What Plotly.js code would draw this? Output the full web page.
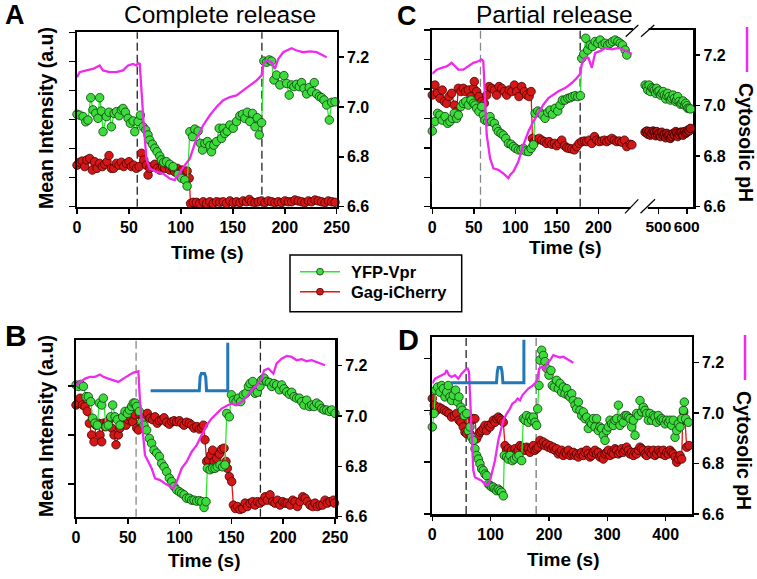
<!DOCTYPE html>
<html><head><meta charset="utf-8">
<script src="https://cdn.plot.ly/plotly-3.0.1.min.js"></script>
<style>html,body{margin:0;padding:0;background:#fff}#chart{width:757px;height:579px}</style>
</head><body><div id="chart"></div>
<script>
// ---------- Panel A (complete release) ----------
const A_YFP_T = [0,2.6,5.8,8.4,10.6,13.2,15.4,18.0,20.2,21.8,23.5,25.1,28.3,30.8,33.1,35.7,37.9,40.5,42.7,44.3,46.6,49.2,51.4,54.0,55.6,58.8,61.0,63.6,66.2,68.4,70.0,72.6,74.9,77.1,79.7,81.3,83.5,86.1,89.3,92.5,97.4,100.6,103.8,106.0,108.6,111.2,113.4,116.6,118.9,120.8,123.1,125.6,127.9,129.5,131.7,134.3,136.9,139.1,140.7,142.3,144.6,147.2,150.4,153.6,156.8,159.4,161.6,163.9,166.4,169.0,171.3,173.5,175.4,177.7,179.9,182.5,185.1,187.3,189.6,192.1,195.3,199.2,201.8,204.3,206.6,208.8,211.4,214.0,216.2,218.5,221.1,223.6,225.9,228.4,230.7,233.3,235.5,237.8,240.3,242.9,245.2,248.4];
const A_YFP = [3.18,3.15,3.10,2.92,2.98,3.75,3.33,3.21,3.04,3.75,3.29,2.58,3.10,3.25,2.75,3.21,3.27,3.13,3.33,3.38,3.25,3.04,2.87,2.95,2.58,2.93,3.15,2.75,2.64,2.47,2.29,2.15,2.01,1.89,1.74,1.61,1.53,1.55,1.46,1.38,1.11,0.98,0.92,0.71,2.58,2.41,2.67,2.60,2.18,1.95,2.18,2.24,2.10,1.89,2.12,2.24,2.70,2.35,2.70,2.52,2.60,2.81,2.70,2.93,3.13,3.18,3.04,3.25,2.93,3.21,2.75,3.06,2.47,2.89,5.01,4.97,5.05,5.01,4.36,4.53,4.19,4.51,4.24,3.84,4.19,4.13,4.21,4.13,4.27,4.07,3.88,4.10,3.96,4.27,3.88,3.79,3.75,3.67,3.50,2.98,3.59,3.61];
const A_GAG_T = [0,2.6,5.1,7.4,9.6,12.2,14.8,17.0,19.3,21.8,24.4,26.7,28.9,30.8,33.1,35.3,37.9,40.5,42.7,45.0,47.6,50.1,52.4,54.6,57.2,59.8,62.0,64.3,66.8,68.4,70.0,72.6,74.9,77.1,79.7,82.3,84.5,86.8,89.3,91.9,94.1,96.4,99.0,101.5,103.8,106.0,108.0,109.3,111.8,115.0,118.2,121.5,124.7,127.9,131.1,134.3,137.5,140.7,143.9,147.2,150.4,153.6,156.8,160.0,163.2,165.8,168.0,171.3,174.5,177.7,180.9,184.1,187.3,190.5,193.7,197.0,200.2,203.4,206.6,209.8,213.0,216.2,219.4,222.7,225.9,229.1,232.3,235.5,238.7,241.9,245.2,248.4];
const A_GAG = [1.43,1.53,1.57,1.38,1.61,1.66,1.26,1.55,1.32,1.49,1.38,1.46,1.55,1.76,1.32,1.32,1.49,1.43,1.53,1.38,1.49,1.55,1.38,1.43,1.32,1.38,1.84,1.61,1.43,1.09,1.32,1.38,1.46,1.32,1.26,1.38,1.32,1.46,1.26,1.34,1.20,1.32,1.15,1.26,1.20,1.23,0.98,0.11,0.15,0.15,0.11,0.17,0.11,0.17,0.11,0.17,0.15,0.17,0.11,0.20,0.14,0.17,0.14,0.20,0.17,0.25,0.17,0.14,0.17,0.20,0.14,0.20,0.17,0.14,0.17,0.14,0.20,0.17,0.17,0.23,0.20,0.17,0.14,0.20,0.17,0.23,0.20,0.17,0.14,0.20,0.17,0.15];
const A_PH_T = [0,2.6,9,15.4,21.8,25,31.5,37.9,44.3,49.2,54,57.2,58.8,60.4,64.3,66.8,70,76.5,82.9,89.3,94.1,99,103.8,108.6,115,121.5,127.9,134.3,140.7,147.2,153.6,160,166.4,172.9,177.7,179.3,182.5,187.3,190.5,193.7,198.5,206.6,211.4,217.8,224.3,230.7,237.1,240.3];
const A_PH = [7.12,7.14,7.147,7.153,7.167,7.147,7.14,7.14,7.147,7.167,7.173,7.167,7.177,7.173,6.927,6.793,6.753,6.74,6.733,6.713,6.707,6.74,6.767,6.793,6.873,6.927,6.967,7.0,7.027,7.04,7.047,7.067,7.087,7.107,7.127,7.173,7.187,7.18,7.153,7.193,7.22,7.236,7.227,7.22,7.223,7.22,7.207,7.2];

// ---------- Panel C (partial release) ----------
const C_YFP_T = [0,3.2,6.4,9.2,12.0,15.3,18.5,21.3,24.1,26.5,29.3,31.3,34.5,37.3,40.2,43.4,46.6,49.4,51.4,53.4,56.2,59.4,61.4,63.5,66.7,69.5,71.5,74.7,77.5,79.5,82.7,85.5,88.4,91.6,94.8,97.6,100.4,103.6,106.8,109.6,112.4,115.7,118.9,121.7,123.7,126.9,129.7,132.5,135.7,139.0,141.8,144.6,147.8,151.0,153.8,156.6,159.8,163.1,165.9,168.7,171.9,175.1,178.3,179.9,182.3,184.7,187.1,190.0,192.8,196.0,199.2,202.0,204.8,208.0,211.2,214.1,216.9,220.1,223.3,226.1,228.9,232.1,234.1];
const C_YFP = [2.57,2.89,3.17,3.11,2.94,3.06,2.83,2.89,3.00,3.17,3.00,3.11,3.40,3.51,3.57,3.45,3.62,3.51,3.45,3.34,3.23,3.40,3.11,2.94,2.89,3.06,2.89,2.83,2.66,2.55,2.49,2.43,2.32,2.15,2.12,2.04,1.98,1.93,1.93,1.98,1.89,1.87,1.98,2.10,3.17,3.25,3.20,3.11,3.00,3.20,3.28,3.14,3.34,3.25,3.45,3.62,3.62,3.68,3.70,3.74,3.77,3.74,3.77,5.04,5.18,5.72,5.32,5.49,5.44,5.61,5.55,5.66,5.49,5.55,5.49,5.55,5.61,5.66,5.61,5.55,5.49,5.32,5.15];
const C_GAG_T = [0,3.2,6.4,9.2,12.0,14.5,17.3,20.1,23.3,26.5,29.3,31.3,34.5,37.3,40.2,43.4,46.6,49.4,50.6,53.4,56.2,59.4,62.6,65.5,68.3,71.5,74.7,77.5,80.3,83.5,86.7,89.6,92.4,95.6,98.8,101.6,104.4,107.6,110.8,113.7,116.5,118.9,120.5,122.9,125.7,128.5,131.7,134.9,137.7,140.6,143.8,147.0,149.8,152.6,155.8,159.0,161.8,164.7,167.9,171.1,173.9,176.7,179.9,183.1,185.9,188.8,192.0,195.2,198.0,200.8,204.0,207.2,210.0,212.8,216.1,219.3,222.1,224.9,228.1,231.3,234.1,238.2,240.2];
const C_GAG = [3.79,4.13,3.85,3.68,3.96,3.57,3.51,3.74,3.85,3.45,3.23,4.02,3.91,4.02,3.91,3.96,3.74,4.02,4.25,3.91,3.74,3.57,3.51,3.79,4.08,4.02,3.96,3.79,4.08,4.02,3.91,3.79,3.96,3.91,4.13,3.91,3.74,4.08,3.91,3.79,3.74,3.91,2.32,2.21,2.26,2.32,2.26,2.21,2.15,2.21,2.12,2.15,2.07,2.15,2.26,2.07,2.00,1.98,1.96,1.93,2.04,2.15,2.21,2.23,2.21,2.26,2.15,2.38,2.26,2.21,2.23,2.26,2.21,2.26,2.32,2.26,2.21,2.23,2.19,2.26,2.04,2.12,2.10];
const C_LATE_T = [453.0,458.8,462.4,467.1,471.8,476.5,481.2,485.9,490.6,494.1,497.6,502.4,507.1,511.8,516.5,521.2,525.9,529.4,532.9,537.6,542.3,547.0,551.7,556.4,561.2,564.7,568.2,572.9,577.6,582.3,587.0,591.7,596.4,600.0,603.5,608.2,612.9];
const C_YFP_LATE = [4.13,4.08,3.96,4.13,3.91,4.04,4.00,3.96,3.85,4.02,3.91,3.93,3.79,3.85,3.91,3.79,3.66,3.77,3.85,3.74,3.62,3.68,3.79,3.68,3.57,3.62,3.74,3.57,3.48,3.51,3.59,3.45,3.51,3.43,3.34,3.34,3.32];
const C_GAG_LATE = [2.53,2.57,2.46,2.55,2.43,2.49,2.57,2.53,2.41,2.55,2.46,2.49,2.38,2.53,2.43,2.46,2.34,2.49,2.41,2.43,2.32,2.38,2.49,2.43,2.55,2.49,2.38,2.46,2.53,2.53,2.43,2.55,2.49,2.53,2.60,2.57,2.66];
const C_PH_T = [0,5.2,11.2,17.3,23.3,27.3,31.3,37.3,43.4,49.4,55.4,59.4,61.4,63.5,65.5,69.5,73.5,79.5,85.5,91.6,93.6,97.6,103.6,109.6,115.7,121.7,127.7,133.7,139.8,145.8,151.8,159.8,167.9,173.9,177.9,179.9,183.1,188.0,192.0,196.0,202.0,208.0,216.1,224.1,232.1,240.2];
const C_PH = [7.126,7.143,7.150,7.156,7.170,7.156,7.143,7.143,7.156,7.170,7.176,7.183,7.176,6.991,6.885,6.792,6.752,6.746,6.732,6.713,6.726,6.739,6.779,6.845,6.898,6.938,6.971,7.004,7.030,7.044,7.057,7.070,7.090,7.110,7.126,7.163,7.189,7.189,7.150,7.209,7.216,7.229,7.223,7.229,7.219,7.205];

// ---------- Panel B ----------
const B_YFP_T = [0,2.3,4.5,7.1,9.7,11.9,14.2,16.1,18.3,20.6,22.5,24.8,26.4,29.0,31.2,33.5,35.4,37.7,39.9,42.5,45.1,47.3,49.6,51.5,53.7,55.3,57.0,58.6,61.1,63.4,65.6,68.2,70.8,73.0,75.3,77.9,80.5,82.7,85.0,87.5,90.1,92.4,94.6,97.2,99.8,102.0,104.3,106.8,109.4,111.7,113.9,116.5,119.1,121.3,123.6,125.5,126.8,129.4,131.9,134.2,136.4,139.0,141.6,143.8,145.5,148.0,150.0,151.9,154.5,156.7,159.0,161.5,164.1,166.4,168.0,170.6,172.8,175.1,177.6,179.2,181.5,184.1,186.6,188.9,191.1,193.7,196.3,198.5,200.8,203.4,206.0,208.2,210.5,213.0,215.6,217.9,220.1,222.7,225.3,227.5,229.8,232.3,234.9,237.2,239.4,242.0,244.6,246.8,250.0];
const B_YFP = [3.02,2.99,3.03,2.99,2.78,2.78,2.68,2.34,2.24,2.20,2.65,2.61,2.75,2.17,2.20,2.37,2.61,2.37,2.31,2.20,2.37,2.48,2.44,2.51,2.58,2.65,2.65,2.58,2.48,2.27,2.20,2.10,1.93,1.83,1.69,1.63,1.56,1.42,1.35,1.25,1.12,1.05,0.95,0.88,0.84,0.81,0.78,0.71,0.71,0.67,0.67,0.65,0.66,0.64,0.52,0.64,1.32,1.29,1.32,1.32,1.35,1.39,1.35,1.39,2.44,2.37,2.82,2.71,2.68,2.75,2.68,2.82,2.85,2.99,3.05,3.09,2.85,2.87,2.99,3.12,3.16,3.09,3.07,2.99,3.05,3.02,2.92,3.02,2.94,2.88,2.83,2.87,2.78,2.75,2.75,2.68,2.61,2.71,2.58,2.61,2.58,2.65,2.61,2.54,2.51,2.51,2.48,2.51,2.44];
const B_GAG_T = [0,2.3,3.9,6.4,8.7,10.9,12.9,15.1,17.4,19.3,21.6,23.2,24.8,26.4,28.0,30.2,32.2,34.4,36.7,38.6,40.9,42.5,44.1,45.7,48.3,50.5,52.1,54.7,57.0,58.6,60.2,61.8,64.4,66.6,68.9,71.4,74.0,76.3,78.5,80.5,82.7,85.0,87.5,90.1,92.4,94.6,97.2,99.8,102.0,104.3,106.8,109.4,111.7,113.9,116.5,119.1,121.3,122.9,124.5,126.1,127.8,130.0,131.9,133.2,135.8,138.4,140.6,142.9,144.8,146.1,148.0,150.3,151.9,153.8,155.8,158.3,160.9,163.2,165.4,168.0,170.6,172.8,175.1,177.6,180.2,182.5,184.7,187.3,189.9,192.1,194.4,196.9,199.5,201.8,204.0,206.6,209.2,211.4,213.7,216.2,218.8,221.1,223.3,225.9,228.5,230.7,233.0,235.6,238.1,240.4,242.6,245.2,248.4,249.5];
const B_GAG = [2.61,2.65,2.75,2.61,2.58,2.48,2.24,2.00,1.86,2.20,2.24,2.00,1.86,2.24,2.17,2.27,2.31,2.14,2.00,1.80,2.00,2.14,2.24,2.31,2.20,2.31,2.37,2.27,2.41,2.14,2.10,2.41,2.34,2.41,2.44,2.34,2.31,2.37,2.24,2.29,2.31,2.35,2.26,2.22,2.27,2.29,2.27,2.29,2.24,2.20,2.26,2.24,2.20,2.14,2.17,2.12,2.15,2.20,1.90,1.46,1.49,1.59,1.69,1.46,1.52,1.61,1.71,1.73,1.46,1.32,1.15,1.05,0.57,0.50,0.54,0.48,0.50,0.61,0.54,0.61,0.64,0.57,0.64,0.61,0.65,0.74,0.67,0.78,0.64,0.61,0.67,0.57,0.64,0.61,0.61,0.57,0.67,0.64,0.54,0.64,0.74,0.71,0.64,0.57,0.54,0.61,0.54,0.57,0.57,0.67,0.61,0.64,0.67,0.61];
const B_PH_T = [0,3.9,8.7,13.5,18.3,23.2,26.4,31.2,36.0,40.9,45.7,50.5,55.3,58.6,60.2,61.8,64.4,66.6,69.8,73.0,76.3,81.1,85.9,90.7,94.0,97.2,102.0,106.8,111.7,116.5,121.3,126.1,131.0,135.8,140.6,145.5,150.3,155.1,159.9,164.8,169.6,174.4,179.2,181.5,185.7,190.5,193.7,198.5,203.4,208.2,213.0,217.9,222.7,227.5,232.3,237.2,240.4];
const B_PH = [7.122,7.135,7.148,7.155,7.155,7.164,7.155,7.148,7.142,7.135,7.148,7.161,7.172,7.175,7.177,7.056,6.924,6.844,6.818,6.792,6.752,6.745,6.732,6.719,6.712,6.739,6.792,6.818,6.858,6.884,6.924,6.963,6.990,7.010,7.029,7.040,7.049,7.043,7.056,7.076,7.102,7.122,7.148,7.181,7.188,7.168,7.208,7.227,7.238,7.234,7.221,7.225,7.217,7.221,7.214,7.208,7.201];
const B_STIM_T = [72,119,119.8,121,124,125.2,126,146.5,146.5];
const B_STIM = [7.10,7.10,7.155,7.168,7.168,7.155,7.10,7.10,7.29];

// ---------- Panel D ----------
const D_YFP_T = [0,2.9,5.7,9.1,13.1,16.0,18.9,21.7,24.6,27.4,30.3,33.1,36.0,40.0,43.4,45.7,49.1,51.4,54.9,58.9,61.7,64.6,67.4,70.3,73.1,76.0,78.9,81.7,84.6,87.4,90.3,93.1,96.0,98.9,101.7,104.6,107.4,110.3,113.1,116.0,118.9,121.7,123.4,127.4,130.3,133.1,137.1,140.6,144.6,148.6,153.1,156.0,158.9,161.7,164.6,167.4,170.3,173.1,176.0,178.9,180.6,182.9,184.6,187.4,190.3,193.1,196.0,200.0,203.4,205.7,209.1,213.1,216.0,218.9,221.7,224.6,227.4,230.3,233.1,236.0,238.9,241.7,244.6,247.4,250.3,253.1,256.0,258.9,261.7,264.6,267.4,270.3,273.1,276.0,278.9,281.7,284.6,287.4,290.3,293.1,296.0,298.9,301.7,304.6,307.4,310.3,313.1,316.0,318.9,321.7,324.6,327.4,330.3,333.1,336.0,338.9,341.7,344.6,347.4,350.3,353.1,356.0,358.9,361.7,364.6,367.4,370.3,373.1,376.0,378.9,381.7,384.6,387.4,390.3,393.1,396.0,398.9,401.7,404.6,407.4,410.3,413.1,416.0,418.9,421.7,424.6,427.4,430.3,432.0,434.3,438.9];
const D_YFP = [1.68,1.94,2.39,2.45,2.35,2.48,2.42,2.26,2.35,2.48,2.26,2.19,2.29,2.39,2.16,2.26,2.06,2.00,1.90,1.94,1.61,1.68,1.48,1.42,1.26,1.13,1.06,0.97,0.87,0.84,0.77,0.74,0.58,0.55,0.52,0.52,0.48,0.45,0.48,0.45,0.42,0.35,1.13,1.10,1.06,1.13,1.03,1.06,1.10,1.13,1.03,1.84,1.81,1.90,1.77,1.87,1.81,1.87,1.77,1.71,2.03,2.48,2.97,3.16,3.06,2.94,2.81,2.68,2.77,2.48,2.45,2.58,2.42,2.52,2.35,2.45,2.32,2.42,2.29,2.26,2.32,2.19,2.10,2.03,2.16,2.00,1.90,1.97,1.84,1.87,1.65,1.77,1.74,1.84,1.68,1.84,1.61,1.68,1.65,1.52,1.42,1.61,1.68,1.81,1.74,1.71,1.81,1.84,2.10,1.71,1.84,1.77,1.90,1.90,1.87,1.84,1.68,1.81,1.52,1.94,1.90,2.19,1.97,2.06,2.00,1.94,1.81,1.94,1.81,1.90,1.87,1.77,1.90,1.81,1.84,1.81,1.74,1.81,1.77,1.81,1.71,1.81,1.48,1.61,1.74,1.68,1.84,2.00,2.16,1.84,1.77];
const D_GAG_T = [0,3.4,7.4,11.4,16.0,20.6,24.6,28.6,33.1,37.7,41.7,45.7,49.1,53.1,56.0,58.9,61.7,64.6,67.4,70.3,73.1,76.0,78.9,81.7,84.6,87.4,90.3,93.1,96.0,98.9,101.7,104.6,107.4,110.3,113.1,116.0,118.9,121.7,124.6,127.4,130.3,133.1,136.0,138.9,141.7,144.6,147.4,150.3,153.1,156.0,158.9,161.7,164.6,167.4,170.3,173.1,176.0,178.9,181.7,184.6,187.4,190.3,193.1,196.0,198.9,201.7,204.6,207.4,210.3,213.1,216.0,218.9,221.7,224.6,227.4,230.3,233.1,236.0,238.9,241.7,244.6,247.4,250.3,253.1,256.0,258.9,261.7,264.6,267.4,270.3,273.1,276.0,278.9,281.7,284.6,287.4,290.3,293.1,296.0,298.9,301.7,304.6,307.4,310.3,313.1,316.0,318.9,321.7,324.6,327.4,330.3,333.1,336.0,338.9,341.7,344.6,347.4,350.3,353.1,356.0,358.9,361.7,364.6,367.4,370.3,373.1,376.0,378.9,381.7,384.6,387.4,390.3,393.1,396.0,398.9,401.7,404.6,407.4,410.3,413.1,416.0,418.9,421.7,424.6,427.4,429.1,430.9,433.1,436.0,440.0];
const D_GAG = [2.23,2.10,2.00,2.06,2.03,2.00,1.97,1.94,1.87,1.90,1.94,1.81,1.77,1.68,1.58,1.55,1.81,1.55,1.81,1.84,1.84,1.45,1.52,1.58,1.61,1.65,1.71,1.61,1.71,1.68,1.74,1.81,1.77,1.84,1.87,1.84,1.81,1.77,
1.32,1.23,1.26,1.19,1.23,1.16,1.26,1.19,1.23,1.32,
1.29,1.26,1.23,1.29,1.26,1.19,1.26,1.32,1.23,1.26,
1.29,1.42,1.35,1.39,1.32,1.35,1.29,1.32,1.26,1.29,
1.23,1.26,1.16,1.19,1.23,1.13,1.19,1.16,1.23,1.13,
1.16,1.19,1.13,1.16,1.10,1.16,1.19,1.13,1.19,1.23,
1.16,1.10,1.13,1.19,1.23,1.16,1.19,1.10,1.13,1.06,
1.16,1.19,1.23,1.13,1.19,1.16,1.26,1.23,1.16,1.19,
1.26,1.19,1.23,1.29,1.23,1.16,1.19,1.13,1.19,1.16,
1.23,1.29,1.26,1.23,1.16,1.13,1.23,1.19,1.16,1.23,
1.13,1.16,1.23,1.19,1.16,1.23,1.13,1.19,1.16,1.23,
1.19,1.16,1.10,1.00,1.06,1.13,1.06,
1.81,1.97,1.81,1.29,1.32];
const D_PH_T = [0,4.6,10.3,16.0,21.7,24.6,28.6,33.1,38.9,44.6,50.3,56.0,60.6,62.9,64.6,67.4,70.3,73.1,78.9,84.6,90.3,94.9,98.9,101.7,107.4,113.1,117.7,121.7,127.4,133.1,137.1,141.7,146.3,150.3,154.3,158.9,164.6,170.3,176.0,180.6,182.9,187.4,192.0,196.0,201.7,207.4,213.1,218.9,224.6,230.3,236.0,241.7];
const D_PH = [7.117,7.136,7.143,7.150,7.156,7.170,7.150,7.143,7.150,7.136,7.156,7.170,7.176,7.163,7.064,6.905,6.772,6.746,6.739,6.732,6.719,6.713,6.732,6.759,6.812,6.891,6.931,6.971,6.997,7.017,7.037,7.044,7.057,7.050,7.070,7.083,7.097,7.106,7.117,7.136,7.176,7.183,7.170,7.196,7.209,7.229,7.223,7.220,7.223,7.216,7.209,7.199];
const D_STIM_T = [32,110,111.5,113,118,119.5,121,157,157];
const D_STIM = [7.12,7.12,7.165,7.18,7.18,7.165,7.12,7.12,7.29];

// ---------- ticks / labels ----------
const X_TICKS_AB = [0,50,100,150,200,250];
const X_TICKS_C1 = [0,50,100,150,200];
const X_TICKS_C2 = [500,600];
const X_TICKS_D = [0,100,200,300,400];
const PH_TICKS = [6.6,6.8,7.0,7.2];
const PH_LABELS = ['6.6','6.8','7.0','7.2'];
const DASH_TIMES = [58,178];
const LEGEND_NAMES = ['YFP-Vpr','Gag-iCherry'];

// ---------- styling ----------
const FONT = 'Liberation Sans, Arial, Helvetica, sans-serif';
const W = 757, H = 579;
const fx = v => v / W, fy = v => 1 - v / H;
const GREEN = {fill:'#3cdc3c', line:'#2ee82e', edge:'#0f3a0f'};
const RED = {fill:'#d41818', line:'#ee1010', edge:'#460000'};
const PINK = '#ee2aee', BLUE = '#2277b8';

function pts(name, x, y, xa, ya, c) {
  return {type:'scatter', mode:'lines+markers', name:name, x:x, y:y, xaxis:xa, yaxis:ya,
    showlegend:false, cliponaxis:false, hoverinfo:'skip',
    line:{color:c.line, width:1.3},
    marker:{size:8.5, color:c.fill, line:{color:c.edge, width:0.8}}};
}
function curve(x, y, xa, ya, color, width) {
  return {type:'scatter', mode:'lines', x:x, y:y, xaxis:xa, yaxis:ya, showlegend:false,
    cliponaxis:false, hoverinfo:'skip', line:{color:color, width:width}};
}

const traces = [
  pts('Gag-iCherry', A_GAG_T, A_GAG, 'x', 'y', RED),
  pts('YFP-Vpr', A_YFP_T, A_YFP, 'x', 'y', GREEN),
  curve(A_PH_T, A_PH, 'x', 'y2', PINK, 2.3),

  pts('Gag-iCherry', C_GAG_T, C_GAG, 'x2', 'y3', RED),
  pts('YFP-Vpr', C_YFP_T, C_YFP, 'x2', 'y3', GREEN),
  pts('Gag-iCherry', C_LATE_T, C_GAG_LATE, 'x3', 'y3', {fill:'#b81010', line:'#ee1010', edge:'#300000'}),
  pts('YFP-Vpr', C_LATE_T, C_YFP_LATE, 'x3', 'y3', GREEN),
  curve(C_PH_T, C_PH, 'x2', 'y4', PINK, 2.3),

  pts('Gag-iCherry', B_GAG_T, B_GAG, 'x4', 'y5', RED),
  pts('YFP-Vpr', B_YFP_T, B_YFP, 'x4', 'y5', GREEN),
  curve(B_PH_T, B_PH, 'x4', 'y6', PINK, 2.3),
  curve(B_STIM_T, B_STIM, 'x4', 'y6', BLUE, 3),

  pts('Gag-iCherry', D_GAG_T, D_GAG, 'x5', 'y7', RED),
  pts('YFP-Vpr', D_YFP_T, D_YFP, 'x5', 'y7', GREEN),
  curve(D_PH_T, D_PH, 'x5', 'y8', PINK, 2.3),
  curve(D_STIM_T, D_STIM, 'x5', 'y8', BLUE, 3)
];

const tickFont = {family:FONT, size:16, color:'#000', weight:'bold'};
const base = {showline:true, linecolor:'#000', linewidth:2.5, ticks:'outside', ticklen:4.5,
  tickwidth:1.5, tickcolor:'#000', showgrid:false, zeroline:false, fixedrange:true, tickfont:tickFont, tickangle:0};
const ax = o => Object.assign({}, base, o);

const yA = [fy(206.7), fy(32.3)], yC = [fy(206.7), fy(30)], yB = [fy(516.7), fy(340.3)], yD = [fy(514), fy(337.3)];
const leftY = {ticklen:5.5, showticklabels:false, tickmode:'array'};

const layout = {
  width:W, height:H, margin:{l:0, r:0, t:0, b:0}, paper_bgcolor:'#fff', plot_bgcolor:'rgba(0,0,0,0)',
  font:{family:FONT, color:'#000'}, showlegend:false,
  xaxis: ax({domain:[fx(77), fx(336.7)], range:[0,250], anchor:'y', tickmode:'array', tickvals:X_TICKS_AB, mirror:true}),
  yaxis: ax(Object.assign({domain:yA, range:[0,6], anchor:'x', tickvals:[0,1,2,3,4,5,6]}, leftY)),
  yaxis2: ax({overlaying:'y', side:'right', anchor:'x', range:[6.6,7.3], tickmode:'array', tickvals:PH_TICKS, ticktext:PH_LABELS}),

  xaxis2: ax({domain:[fx(432.3), fx(640)], range:[0,250], anchor:'y3', tickmode:'array', tickvals:X_TICKS_C1, mirror:true}),
  xaxis3: ax({domain:[fx(640), fx(693.3)], range:[435,623], anchor:'y3', tickmode:'array', tickvals:X_TICKS_C2, mirror:true,
    tickfont:{family:FONT, size:15.5, color:'#000', weight:'bold'}}),
  yaxis3: ax(Object.assign({domain:yC, range:[0,6], anchor:'x2', tickvals:[0,1,2,3,4,5,6]}, leftY)),
  yaxis4: ax({overlaying:'y3', side:'right', anchor:'x3', range:[6.6,7.3], tickmode:'array', tickvals:PH_TICKS, ticktext:PH_LABELS}),

  xaxis4: ax({domain:[fx(76), fx(335)], range:[0,250], anchor:'y5', tickmode:'array', tickvals:X_TICKS_AB, mirror:true}),
  yaxis5: ax(Object.assign({domain:yB, range:[0.333,3.93], anchor:'x4', tickvals:[1,2,3]}, leftY)),
  yaxis6: ax({overlaying:'y5', side:'right', anchor:'x4', range:[6.6,7.3], tickmode:'array', tickvals:PH_TICKS, ticktext:PH_LABELS}),

  xaxis5: ax({domain:[fx(432.3), fx(691.7)], range:[0,444.6], anchor:'y7', tickmode:'array', tickvals:X_TICKS_D, mirror:true}),
  yaxis7: ax(Object.assign({domain:yD, range:[0,3.41], anchor:'x5', tickvals:[0,1,2,3]}, leftY)),
  yaxis8: ax({overlaying:'y7', side:'right', anchor:'x5', range:[6.6,7.3], tickmode:'array', tickvals:PH_TICKS, ticktext:PH_LABELS}),
  shapes:[], annotations:[]
};

// dashed event lines
function dash(xref, yref, t, color) {
  layout.shapes.push({type:'line', layer:'below', xref:xref, yref:yref + ' domain', x0:t, x1:t, y0:0, y1:1,
    line:{color:color, width:1.3, dash:'8px,4px'}});
}
dash('x', 'y', DASH_TIMES[0], '#222'); dash('x', 'y', DASH_TIMES[1], '#222');
dash('x2', 'y3', DASH_TIMES[0], '#888'); dash('x2', 'y3', DASH_TIMES[1], '#222');
dash('x4', 'y5', DASH_TIMES[0], '#888'); dash('x4', 'y5', DASH_TIMES[1], '#222');
dash('x5', 'y7', DASH_TIMES[0], '#222'); dash('x5', 'y7', DASH_TIMES[1], '#777');

function pline(x0, y0, x1, y1, color, width) {
  layout.shapes.push({type:'line', layer:'above', xref:'paper', yref:'paper', x0:fx(x0), y0:fy(y0), x1:fx(x1), y1:fy(y1), line:{color:color, width:width}});
}
function prect(x0, y0, x1, y1, fill, lw) {
  layout.shapes.push({type:'rect', layer:'above', xref:'paper', yref:'paper', x0:fx(x0), y0:fy(y0), x1:fx(x1), y1:fy(y1),
    fillcolor:fill, line:{width:lw || 0, color:'#000'}});
}
function pdot(cx, cy, r, fill, edge) {
  layout.shapes.push({type:'circle', layer:'above', xref:'paper', yref:'paper', x0:fx(cx - r), x1:fx(cx + r), y0:fy(cy + r), y1:fy(cy - r),
    fillcolor:fill, line:{color:edge, width:0.8}});
}
// axis break in C
prect(633, 27, 648.6, 33.5, '#fff'); prect(630.5, 203.5, 647.8, 210, '#fff');
pline(625.7, 36.7, 638.3, 25, '#000', 1.2); pline(641, 36.7, 654.3, 25, '#000', 1.2);
pline(625, 213.3, 638.3, 199.3, '#000', 1.2); pline(640.5, 213.3, 655, 199.3, '#000', 1.2);
// pH key lines
pline(747, 27, 747, 72, PINK, 2.5); pline(745, 335, 745, 380, PINK, 2.5);

function ann(text, x, y, size, bold, angle, xanchor) {
  layout.annotations.push({text:text, x:fx(x), y:fy(y), xref:'paper', yref:'paper', showarrow:false,
    xanchor:xanchor || 'center', yanchor:'middle', textangle:angle || 0,
    font:{family:FONT, size:size, color:'#000', weight:bold ? 'bold' : 'normal'}});
}
// legend box
prect(290, 255, 461.7, 311.7, '#fff', 1.5);
pline(300, 271.7, 340, 271.7, GREEN.line, 1.5); pdot(320, 271.7, 3.4, GREEN.fill, GREEN.edge);
pline(300, 291.7, 340, 291.7, RED.line, 1.5); pdot(320, 291.7, 3.4, RED.fill, RED.edge);
ann(LEGEND_NAMES[0], 349, 272, 16.5, true, 0, 'left');
ann(LEGEND_NAMES[1], 349, 292, 16.5, true, 0, 'left');

ann('A', 15, 15, 27, true); ann('C', 407, 16, 27, true); ann('B', 16, 335, 30, true); ann('D', 408, 340, 29, true);
ann('Complete release', 220, 15, 24.5, false); ann('Partial release', 554, 14, 24.5, false);
ann('Mean Intensity (a.u)', 46, 118, 19.5, true, -90); ann('Mean Intensity (a.u)', 46, 426, 19.5, true, -90);
ann('Cytosolic pH', 746, 142, 19.5, true, 90); ann('Cytosolic pH', 744, 450, 19.5, true, 90);
ann('Time (s)', 207, 252, 19, true); ann('Time (s)', 565, 247, 19, true);
ann('Time (s)', 205, 560, 19, true); ann('Time (s)', 563, 559, 19, true);

Plotly.newPlot('chart', traces, layout, {displayModeBar:false, staticPlot:true});
</script></body></html>
